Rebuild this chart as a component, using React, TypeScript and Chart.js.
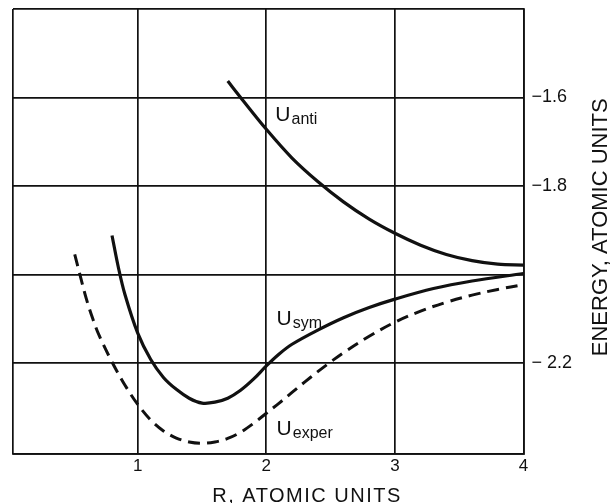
import React, { useEffect, useRef } from 'react';
import { Chart, registerables } from 'chart.js';

Chart.register(...registerables);

const FONT = '"Liberation Sans", Arial, Helvetica, sans-serif';

// R (atomic units) and energy (atomic units)
const uAntiR = [1.7, 1.8, 2.0, 2.2, 2.4, 2.6, 2.8, 3.0, 3.2, 3.4, 3.6, 3.8, 4.0];
const uAntiE = [-1.563, -1.6, -1.672, -1.737, -1.79, -1.836, -1.875, -1.907, -1.934, -1.955, -1.969, -1.977, -1.979];

const uSymR = [0.8, 0.85, 0.9, 1.0, 1.1, 1.2, 1.3, 1.4, 1.5, 1.6, 1.7, 1.8, 1.9, 2.0, 2.1, 2.2, 2.4, 2.6, 2.8, 3.0, 3.3, 3.6, 4.0];
const uSymE = [-1.912, -1.985, -2.045, -2.133, -2.192, -2.233, -2.26, -2.28, -2.291, -2.289, -2.28, -2.262, -2.237, -2.207, -2.18, -2.158, -2.126, -2.098, -2.075, -2.056, -2.032, -2.015, -1.998];

const uExperR = [0.51, 0.55, 0.6, 0.65, 0.7, 0.8, 0.9, 1.0, 1.1, 1.2, 1.3, 1.4, 1.5, 1.6, 1.7, 1.8, 1.9, 2.0, 2.1, 2.2, 2.3, 2.4, 2.5, 2.6, 2.8, 3.0, 3.2, 3.4, 3.6, 3.8, 4.0];
const uExperE = [-1.955, -2.0, -2.055, -2.1, -2.138, -2.198, -2.25, -2.294, -2.329, -2.354, -2.37, -2.379, -2.382, -2.379, -2.371, -2.357, -2.337, -2.314, -2.291, -2.267, -2.243, -2.22, -2.198, -2.177, -2.14, -2.108, -2.083, -2.063, -2.047, -2.034, -2.023];

const xTickValues = [0.03, 1, 2, 3, 4];
const xTickLabels = ['', '1', '2', '3', '4'];
const yTickValues = [-2.405, -2.2, -2.0, -1.8, -1.6, -1.4];
const yTickLabels = ['', '\u2212 2.2', '', '\u22121.8', '\u22121.6', ''];

const curveNames = ['anti', 'sym', 'exper'];
const curveLabelR = [2.07, 2.08, 2.08];
const curveLabelE = [-1.654, -2.114, -2.363];

const xTitle = 'R, ATOMIC UNITS';
const yTitle = 'ENERGY, ATOMIC UNITS';

const toPoints = (xs: number[], ys: number[]) => xs.map((v, i) => ({ x: v, y: ys[i] }));

const textPlugin = {
  id: 'figureTexts',
  afterDraw(chart: any) {
    const { ctx, scales } = chart;
    const xs = scales.x;
    const ys = scales.y;
    ctx.save();
    ctx.fillStyle = '#111';
    ctx.textAlign = 'left';
    ctx.textBaseline = 'alphabetic';
    curveNames.forEach((name, i) => {
      const px = xs.getPixelForValue(curveLabelR[i]);
      const py = ys.getPixelForValue(curveLabelE[i]);
      ctx.font = `21px ${FONT}`;
      ctx.fillText('U', px, py);
      const w = ctx.measureText('U').width;
      ctx.font = `16px ${FONT}`;
      ctx.fillText(name, px + w + 1, py + 3);
    });
    // x title
    ctx.font = `20px ${FONT}`;
    ctx.textAlign = 'center';
    try { (ctx as any).letterSpacing = '1.5px'; } catch (e) { /* ignore */ }
    ctx.fillText(xTitle, chart.width / 2, chart.height - 1);
    try { (ctx as any).letterSpacing = '0px'; } catch (e) { /* ignore */ }
    // y title (reads bottom to top)
    const area = chart.chartArea;
    ctx.translate(chart.width - 13, (area.top + area.bottom) / 2 - 4);
    ctx.rotate(-Math.PI / 2);
    ctx.textBaseline = 'middle';
    ctx.font = `22px ${FONT}`;
    ctx.fillText(yTitle, 0, 0);
    ctx.restore();
  },
};

export default function App() {
  const ref = useRef<HTMLCanvasElement>(null);
  useEffect(() => {
    if (!ref.current) return;
    const lineBase = {
      borderColor: '#111',
      borderWidth: 3.2,
      pointRadius: 0,
      fill: false,
      tension: 0.35,
    };
    const chart = new Chart(ref.current, {
      type: 'line',
      data: {
        datasets: [
          { ...lineBase, label: 'U anti', data: toPoints(uAntiR, uAntiE) },
          { ...lineBase, label: 'U sym', data: toPoints(uSymR, uSymE) },
          { ...lineBase, label: 'U exper', data: toPoints(uExperR, uExperE), borderDash: [12, 7], borderWidth: 3 },
        ],
      },
      options: {
        animation: false,
        responsive: false,
        devicePixelRatio: 1,
        layout: { padding: { left: 13, top: 9, right: 0, bottom: 0 } },
        plugins: { legend: { display: false }, tooltip: { enabled: false }, title: { display: false } },
        scales: {
          x: {
            type: 'linear',
            min: 0.03,
            max: 4,
            afterBuildTicks: (s: any) => { s.ticks = xTickValues.map((v) => ({ value: v })); },
            afterFit: (s: any) => { s.height = 49.5; s.paddingLeft = 0; s.paddingRight = 0; },
            ticks: {
              padding: 3,
              color: '#111',
              font: { family: FONT, size: 17 },
              maxRotation: 0,
              callback: (v: any) => { const i = xTickValues.indexOf(Number(v)); return i >= 0 ? xTickLabels[i] : ''; },
            },
            grid: { color: '#111', lineWidth: 1.7, drawTicks: false },
            border: { display: true, color: '#111', width: 1.7 },
          },
          y: {
            type: 'linear',
            position: 'right',
            min: -2.405,
            max: -1.4,
            afterBuildTicks: (s: any) => { s.ticks = yTickValues.map((v) => ({ value: v })); },
            afterFit: (s: any) => { s.width = 90.5; s.paddingTop = 0; s.paddingBottom = 0; },
            ticks: {
              padding: 8,
              color: '#111',
              font: { family: FONT, size: 18 },
              callback: (v: any) => { const i = yTickValues.indexOf(Number(v)); return i >= 0 ? yTickLabels[i] : ''; },
            },
            grid: { color: '#111', lineWidth: 1.7, drawTicks: false },
            border: { display: true, color: '#111', width: 1.7 },
          },
        },
      },
      plugins: [textPlugin],
    });
    return () => chart.destroy();
  }, []);
  return (
    <div style={{ position: 'absolute', left: 0, top: 0, width: 614, height: 503, background: '#fff' }}>
      <canvas ref={ref} width={614} height={503} style={{ display: 'block', width: 614, height: 503 }} />
    </div>
  );
}
